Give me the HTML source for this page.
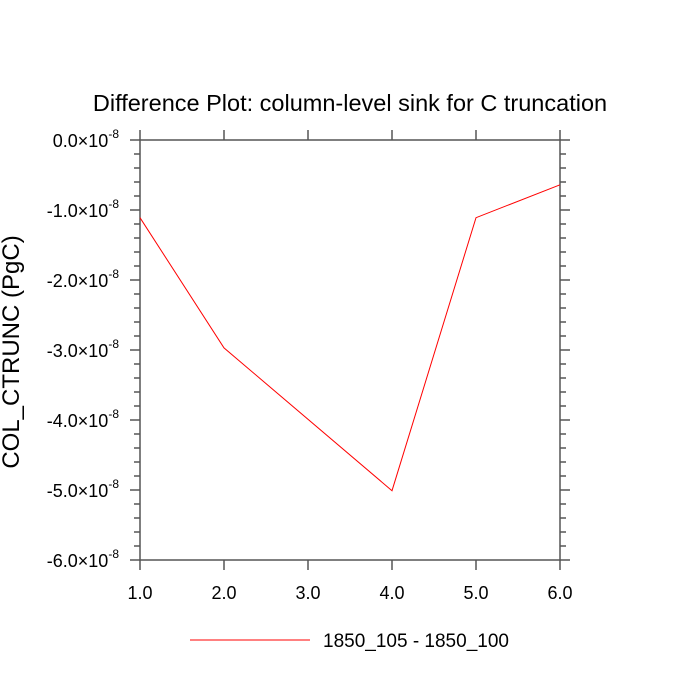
<!DOCTYPE html>
<html><head><meta charset="utf-8"><style>body{margin:0;background:#fff}svg{display:block;font-family:"Liberation Sans",sans-serif}</style></head>
<body>
<svg id="chart" width="700" height="700">
<text x="350" y="111" text-anchor="middle" font-size="23.5">Difference Plot: column-level sink for C truncation</text>
<text transform="translate(19,352) rotate(-90)" text-anchor="middle" font-size="24">COL_CTRUNC  (PgC)</text>
<g id="axes"></g>
<rect x="140" y="140" width="420" height="420" fill="none" stroke="#555" stroke-width="1.5"/>
<g id="series"></g>
<line x1="190" y1="640" x2="310" y2="640" stroke="red" stroke-width="1"/>
<text x="323" y="647" font-size="19">1850_105 - 1850_100</text>
</svg>
<script>
const xCats = [1,2,4,5,6];
const yVals = [-1.11,-2.97,-5.01,-1.11,-0.64];
const xTicks = [1,2,3,4,5,6];
const xTickLabels = ["1.0","2.0","3.0","4.0","5.0","6.0"];
const yTicks = [0,-1,-2,-3,-4,-5,-6];
const yTickLabels = ["0.0","-1.0","-2.0","-3.0","-4.0","-5.0","-6.0"];
const NS="http://www.w3.org/2000/svg";
const X=v=>140+(v-1)*84, Y=v=>140-v*70;
const ax=document.getElementById('axes'), se=document.getElementById('series');
function ln(g,x1,y1,x2,y2){const l=document.createElementNS(NS,'line');l.setAttribute('x1',x1);l.setAttribute('y1',y1);l.setAttribute('x2',x2);l.setAttribute('y2',y2);l.setAttribute('stroke','#555');l.setAttribute('stroke-width','1.5');g.appendChild(l);return l;}
xTicks.forEach((t,i)=>{
 let a=ln(ax,X(t),560,X(t),570);
 let b=ln(ax,X(t),140,X(t),130);
 const tx=document.createElementNS(NS,'text');tx.setAttribute('x',X(t));tx.setAttribute('y',599);tx.setAttribute('text-anchor','middle');tx.setAttribute('font-size','18');tx.textContent=xTickLabels[i];
 
 
 ax.appendChild(tx);
});
yTicks.forEach((t,i)=>{
 let a=ln(ax,140,Y(t),130,Y(t));
 let b=ln(ax,560,Y(t),570,Y(t));
 if(i<yTicks.length-1){for(let k=1;k<5;k++){const v=t-k*0.2;
  let m=ln(ax,140,Y(v),134,Y(v));
  let n=ln(ax,560,Y(v),566,Y(v));}}
 const tx=document.createElementNS(NS,'text');tx.setAttribute('x',119);tx.setAttribute('y',Y(t)+7);tx.setAttribute('text-anchor','end');tx.setAttribute('font-size','18');
 tx.innerHTML=yTickLabels[i]+'\u00d710<tspan dy="-9" font-size="12">-8</tspan>';
 
 
 ax.appendChild(tx);
});
const p=document.createElementNS(NS,'polyline');
p.setAttribute('points',xCats.map((x,i)=>X(x)+','+Y(yVals[i])).join(' '));
p.setAttribute('fill','none');p.setAttribute('stroke','red');p.setAttribute('stroke-width','1');


se.appendChild(p);
</script>
</body></html>
